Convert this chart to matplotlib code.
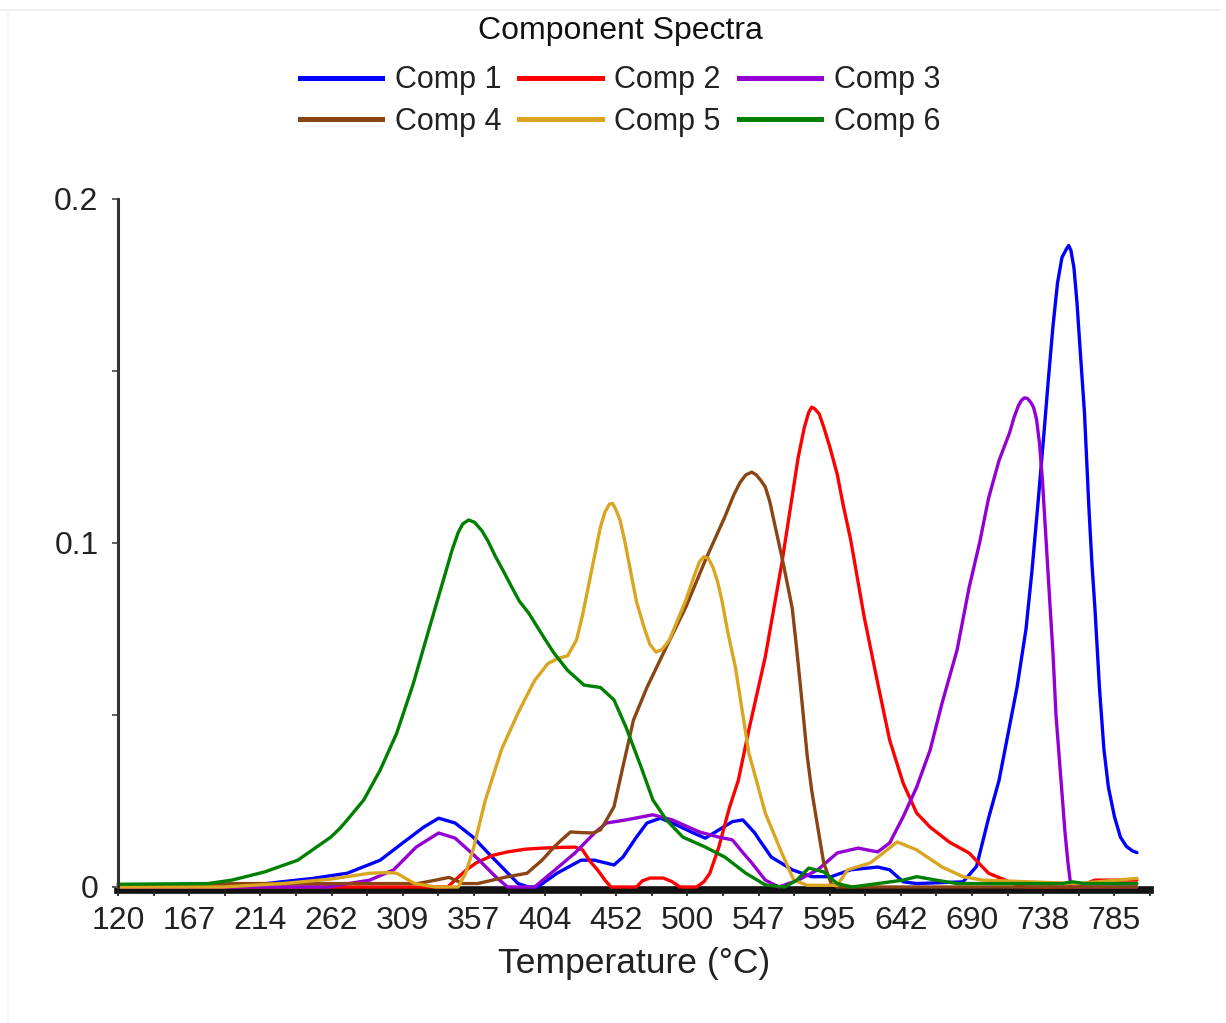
import matplotlib
matplotlib.use("Agg")
import matplotlib.pyplot as plt
from matplotlib.lines import Line2D

plt.rcParams['font.family'] = ['Liberation Sans', 'DejaVu Sans']

# ---- component spectra: temperature (°C) / intensity pairs ----
comp1_t = [120, 200, 229, 250, 273, 295, 310, 324, 334, 345, 357, 367, 378, 387, 394, 400,
           413, 429, 438, 451, 457, 466, 473, 482, 490, 504, 512, 521, 530, 537, 545, 548,
           556, 570, 583, 596, 609, 627, 635, 644, 653, 684, 693, 701, 708, 714, 720, 726,
           730, 734, 738, 741, 744, 747, 750, 753, 754.5, 756, 758, 760, 762, 765, 768, 770,
           772, 775, 778, 781, 785, 789, 793, 797, 800]
comp1_v = [0, 0, 0.0015, 0.0025, 0.004, 0.0078, 0.0128, 0.0174, 0.020, 0.0186, 0.0145, 0.0099,
           0.005, 0.001, 0, 0, 0.004, 0.0078, 0.0078, 0.0064, 0.0087, 0.0145, 0.0186, 0.020,
           0.0186, 0.0157, 0.0142, 0.0166, 0.019, 0.0195, 0.0157, 0.0137, 0.0087, 0.005, 0.003,
           0.003, 0.005, 0.0058, 0.005, 0.0015, 0.001, 0.0015, 0.006, 0.020, 0.031, 0.0445,
           0.058, 0.075, 0.092, 0.1116, 0.132, 0.148, 0.163, 0.1755, 0.183, 0.1855, 0.1865,
           0.185, 0.180, 0.170, 0.157, 0.138, 0.110, 0.094, 0.081, 0.058, 0.040, 0.029, 0.0205,
           0.0145, 0.0118, 0.0105, 0.0100]

comp2_t = [120, 340, 345, 352, 359, 370, 380, 392, 403, 415, 425, 430, 435, 440, 445, 449,
           466, 470, 475, 484, 490, 495, 506, 511, 515, 521, 528, 534, 541, 552, 563, 574,
           578, 581, 583, 585, 588, 591, 595, 600, 604, 609, 618, 627, 635, 644, 653, 662,
           675, 688, 701, 715, 725, 760, 772, 785, 800]
comp2_v = [0, 0, 0.002, 0.0048, 0.007, 0.0092, 0.0102, 0.011, 0.0113, 0.0115, 0.0116, 0.0108,
           0.0075, 0.005, 0.002, 0, 0, 0.0018, 0.0026, 0.0026, 0.0015, 0, 0, 0.0015, 0.004,
           0.0116, 0.023, 0.031, 0.0456, 0.0669, 0.094, 0.125, 0.1335, 0.138, 0.1395, 0.139,
           0.1375, 0.1337, 0.128, 0.120, 0.111, 0.1009, 0.0785, 0.0593, 0.0427, 0.0302,
           0.0215, 0.0174, 0.013, 0.0099, 0.004, 0.0015, 0, 0, 0.002, 0.002, 0.002]

comp3_t = [120, 260, 288, 304, 319, 334, 345, 359, 372, 380, 398, 409, 425, 438, 446, 459,
           477, 490, 508, 521, 530, 538, 543, 552, 561, 574, 587, 600, 614, 627, 635, 644,
           653, 662, 670, 680, 688, 695, 701, 708, 715, 718, 721, 723, 725, 727, 729, 731,
           733, 735, 737, 739.5, 742, 744, 746, 749, 752, 754, 756, 800]
comp3_v = [0, 0, 0.002, 0.005, 0.0116, 0.0157, 0.0142, 0.0087, 0.003, 0, 0, 0.004, 0.0099,
           0.0157, 0.0186, 0.0195, 0.021, 0.0195, 0.016, 0.0145, 0.0137, 0.0095, 0.007, 0.002,
           0, 0.002, 0.005, 0.0099, 0.0113, 0.0102, 0.0128, 0.0204, 0.029, 0.0398, 0.0535,
           0.0689, 0.087, 0.100, 0.113, 0.124, 0.132, 0.1365, 0.140, 0.1415, 0.1422, 0.142,
           0.141, 0.1395, 0.136, 0.129, 0.118, 0.100, 0.082, 0.068, 0.050, 0.033, 0.016,
           0.007, 0, 0]

comp4_t = [120, 200, 320, 332, 341, 350, 360, 380, 393, 403, 411, 416, 422, 430, 437, 442,
           446, 451, 457, 464, 473, 486, 499, 512, 525, 531, 535, 539, 543, 546, 549, 552,
           555, 558, 561, 564, 567, 570, 573, 576, 580, 583, 587, 591, 596, 600, 800]
comp4_v = [0, 0.001, 0.001, 0.002, 0.0028, 0.001, 0.001, 0.003, 0.004, 0.0078, 0.0116, 0.0137,
           0.016, 0.0158, 0.0157, 0.0166, 0.0195, 0.0233, 0.035, 0.0485, 0.058, 0.0698,
           0.0814, 0.095, 0.1076, 0.114, 0.1175, 0.1198, 0.1206, 0.1198, 0.1182, 0.1163,
           0.112, 0.106, 0.100, 0.094, 0.0875, 0.081, 0.069, 0.056, 0.038, 0.028, 0.0174,
           0.007, 0.001, 0, 0]

comp5_t = [120, 190, 230, 262, 288, 300, 306, 312, 318, 332, 347, 352, 357, 365, 376, 387,
           398, 407, 414, 420, 426, 430, 433, 437, 442, 445, 448, 450, 452, 455, 458, 462,
           466, 471, 475, 479, 483, 488, 499, 505, 508, 511, 514, 517, 520, 523, 527, 532,
           541, 552, 563, 571, 580, 600, 607, 622, 631, 640, 653, 670, 684, 697, 760, 800]
comp5_v = [0, 0, 0.001, 0.0023, 0.004, 0.0042, 0.004, 0.0025, 0.001, 0, 0, 0.004, 0.0108,
           0.025, 0.040, 0.0506, 0.060, 0.065, 0.0665, 0.0672, 0.0718, 0.079, 0.0854, 0.094,
           0.1047, 0.109, 0.1113, 0.1115, 0.110, 0.1067, 0.101, 0.092, 0.083, 0.0756, 0.0705,
           0.0683, 0.069, 0.0718, 0.0834, 0.091, 0.0945, 0.096, 0.0955, 0.093, 0.089, 0.0834,
           0.074, 0.064, 0.039, 0.0215, 0.0099, 0.002, 0.0005, 0.0005, 0.005, 0.007, 0.010,
           0.0131, 0.0108, 0.0058, 0.003, 0.002, 0.001, 0.0025]

comp6_t = [120, 180, 196, 218, 240, 262, 268, 273, 284, 295, 306, 317, 328, 339, 343, 347,
           350, 354, 358, 363, 367, 372, 377, 383, 388, 394, 400, 405, 411, 420, 431, 442,
           451, 459, 469, 477, 486, 497, 512, 525, 539, 552, 565, 573, 581, 591, 600, 610,
           644, 653, 666, 680, 750, 757, 765, 800]
comp6_v = [0.0008, 0.001, 0.002, 0.0044, 0.0078, 0.0145, 0.017, 0.0195, 0.0253, 0.034, 0.0447,
           0.059, 0.0756, 0.092, 0.098, 0.103, 0.1055, 0.1067, 0.106, 0.1035, 0.1005, 0.096,
           0.092, 0.087, 0.083, 0.0797, 0.0755, 0.072, 0.068, 0.063, 0.0587, 0.058, 0.0544,
           0.0465, 0.035, 0.0253, 0.0195, 0.0145, 0.0116, 0.0087, 0.004, 0.0006, 0, 0.002,
           0.0055, 0.0044, 0.001, 0, 0.002, 0.003, 0.002, 0.001, 0.001, 0.0015, 0.001, 0.001]

series_names = ["Comp 1", "Comp 2", "Comp 3", "Comp 4", "Comp 5", "Comp 6"]
series_colors = ["#0000ff", "#ff0000", "#9400d3", "#8b4513", "#daa520", "#008000"]

x_tick_labels = ["120", "167", "214", "262", "309", "357", "404", "452", "500",
                 "547", "595", "642", "690", "738", "785"]
x_first_tick, x_last_tick = 120, 785
x_min, x_max = 120, 800
y_ticks = [0, 0.1, 0.2]
y_tick_labels = ["0", "0.1", "0.2"]

# ---- figure ----
W, H = 1226, 1023
fig = plt.figure(figsize=(W / 100, H / 100), dpi=100)
ax = fig.add_axes([118 / W, 1 - 887 / H, 1032 / W, 688 / H])

data = [(comp1_t, comp1_v), (comp2_t, comp2_v), (comp3_t, comp3_v),
        (comp4_t, comp4_v), (comp5_t, comp5_v), (comp6_t, comp6_v)]
for (t, v), name, col in zip(data, series_names, series_colors):
    ax.plot(t, v, color=col, lw=2.4, label=name, clip_on=False,
            solid_joinstyle='round', solid_capstyle='round')

ax.set_xlim(x_min, x_max)
ax.set_ylim(0, 0.2)

step = (x_last_tick - x_first_tick) / (len(x_tick_labels) - 1)
major = [x_first_tick + i * step for i in range(len(x_tick_labels))]
minor = [m + step / 2 for m in major]
ax.set_xticks(major)
ax.set_xticklabels(x_tick_labels)
ax.set_xticks(minor, minor=True)
ax.set_yticks(y_ticks)
ax.set_yticklabels(y_tick_labels)
ax.set_yticks([0.05, 0.15], minor=True)

for s in ("top", "right"):
    ax.spines[s].set_visible(False)
ax.spines["left"].set_color("#333333")
ax.spines["left"].set_linewidth(2.2)
ax.spines["bottom"].set_color("#111111")
ax.spines["bottom"].set_linewidth(5.5)
ax.spines["bottom"].set_position(("outward", 2.5))
ax.spines["bottom"].set_zorder(1.5)

ax.tick_params(axis="x", which="both", direction="out", length=4, width=1.3,
               color="#222222", labelsize=23, pad=7, labelcolor="#222222")
ax.tick_params(axis="y", which="both", direction="out", length=4, width=1.3,
               color="#555555", labelsize=23, pad=10, labelcolor="#222222")

ax.set_xlabel("Temperature (°C)", fontsize=25.5, color="#222222", labelpad=8)

fig.text(620 / W, 1 - 31 / H, "Component Spectra", ha="center", va="center",
         fontsize=23, color="#111111")

# legend filled row by row: Comp 1-3 on top, Comp 4-6 below
order = [0, 3, 1, 4, 2, 5]
handles = [Line2D([], [], color=series_colors[i], lw=3.6) for i in order]
labels = [series_names[i] for i in order]
fig.legend(handles, labels, loc="center", bbox_to_anchor=(620 / W, 1 - 101 / H),
           ncol=3, frameon=False, fontsize=22, handlelength=2.7, handletextpad=0.4,
           columnspacing=0.6, labelspacing=0.38, borderpad=0, labelcolor="#222222")

# faint outer frame lines
fig.add_artist(Line2D([0, 1221 / W], [1 - 10 / H, 1 - 10 / H], color="#eeeeee", lw=1.2,
                      transform=fig.transFigure))
fig.add_artist(Line2D([8 / W, 8 / W], [0, 1 - 10 / H], color="#f2f2f2", lw=1.2,
                      transform=fig.transFigure))

fig.savefig("out.png", dpi=100, facecolor="white")
